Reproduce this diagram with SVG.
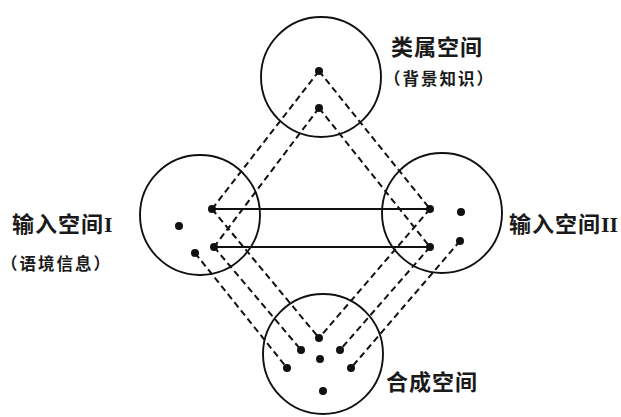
<svg xmlns="http://www.w3.org/2000/svg" width="621" height="417" viewBox="0 0 621 417">
<style>
.c{fill:none;stroke:#111;stroke-width:1.9}
.d{fill:#111}
.s{stroke:#111;stroke-width:2;fill:none}
.k{stroke:#111;stroke-width:2;fill:none;stroke-dasharray:6.5 4}
.t{font-family:"Noto Sans CJK SC","Noto Sans CJK JP",sans-serif;fill:#1a1a1a;font-size:22px;font-weight:bold;letter-spacing:1px}
.u{font-family:"Noto Sans CJK SC","Noto Sans CJK JP",sans-serif;fill:#1a1a1a;font-size:16.5px;font-weight:bold;letter-spacing:2px}
.r{font-family:"Liberation Serif",serif;font-weight:bold;letter-spacing:0}
</style>
<rect width="621" height="417" fill="#fff"/>
<g id="connectors">
<line class="s" x1="212" y1="209" x2="430" y2="209"/>
<line class="s" x1="214" y1="247" x2="430" y2="247"/>
<line class="k" x1="319" y1="71" x2="212" y2="209"/>
<line class="k" x1="319" y1="108" x2="214" y2="247"/>
<line class="k" x1="319" y1="71" x2="430" y2="209"/>
<line class="k" x1="319" y1="108" x2="430" y2="247"/>
<line class="k" x1="212" y1="209" x2="319" y2="338"/>
<line class="k" x1="214" y1="247" x2="301" y2="350"/>
<line class="k" x1="195" y1="253" x2="287" y2="368"/>
<line class="k" x1="430" y1="209" x2="319" y2="338"/>
<line class="k" x1="430" y1="247" x2="340" y2="350"/>
<line class="k" x1="460" y1="241" x2="351" y2="368"/>
</g>
<g id="generic">
<circle class="c" cx="321" cy="77" r="60"/>
<circle class="d" cx="319" cy="71" r="4"/>
<circle class="d" cx="319" cy="108" r="4"/>
<text class="t" x="391" y="55">类属空间</text>
<text class="u" x="384" y="85">（背景知识）</text>
</g>
<g id="input1">
<circle class="c" cx="200" cy="215" r="60"/>
<circle class="d" cx="212" cy="209" r="4"/>
<circle class="d" cx="179" cy="226" r="4"/>
<circle class="d" cx="214" cy="247" r="4"/>
<circle class="d" cx="195" cy="253" r="4"/>
<text class="t" x="12" y="232">输入空间<tspan class="r">I</tspan></text>
<text class="u" x="1" y="270">（语境信息）</text>
</g>
<g id="input2">
<circle class="c" cx="442" cy="213" r="60"/>
<circle class="d" cx="430" cy="209" r="4"/>
<circle class="d" cx="461" cy="212" r="4"/>
<circle class="d" cx="430" cy="247" r="4"/>
<circle class="d" cx="460" cy="241" r="4"/>
<text class="t" x="509" y="232">输入空间<tspan class="r">II</tspan></text>
</g>
<g id="blend">
<circle class="c" cx="323" cy="354" r="60"/>
<circle class="d" cx="319" cy="338" r="4"/>
<circle class="d" cx="301" cy="350" r="4"/>
<circle class="d" cx="340" cy="350" r="4"/>
<circle class="d" cx="320" cy="359" r="4"/>
<circle class="d" cx="287" cy="368" r="4"/>
<circle class="d" cx="351" cy="368" r="4"/>
<circle class="d" cx="323" cy="391" r="4"/>
<text class="t" x="386" y="390">合成空间</text>
</g>
</svg>
